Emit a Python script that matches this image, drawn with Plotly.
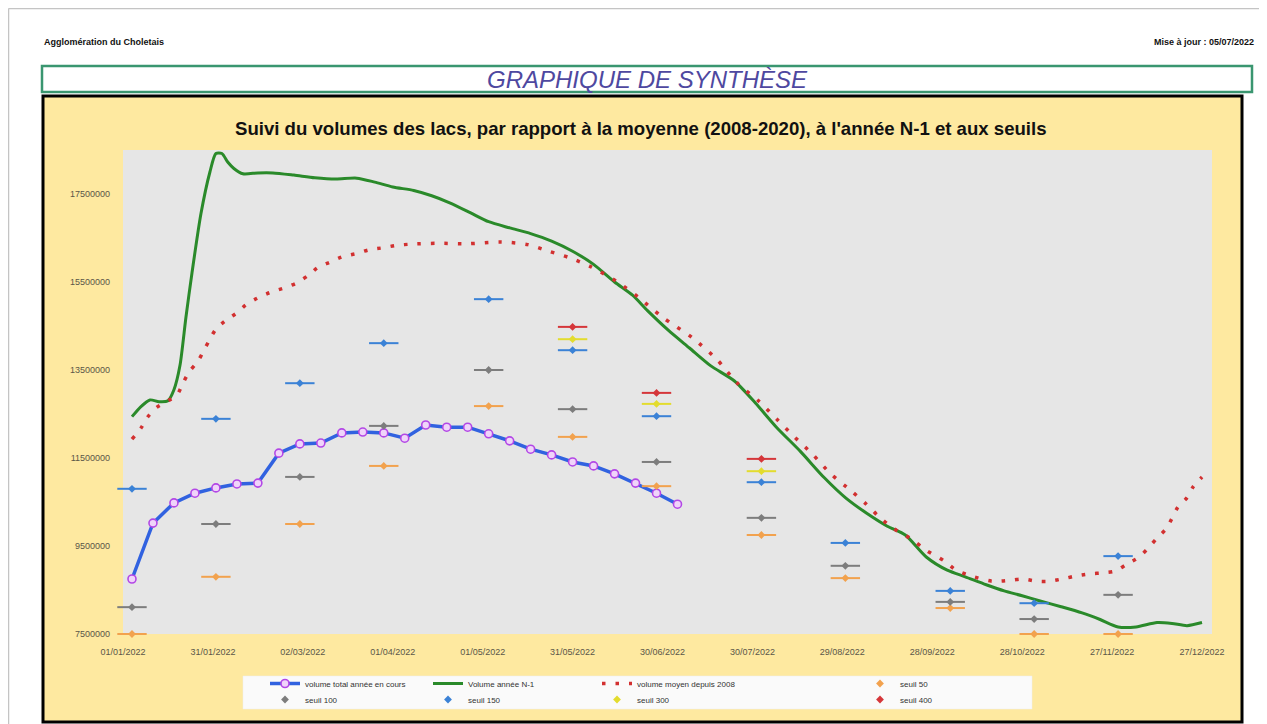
import datetime as dt
import plotly.graph_objects as go

# ---------------- DATA ----------------
BASE = dt.date(2022, 1, 1)

# volume total année en cours (weekly readings)
blue_dates = ["2022-01-04", "2022-01-11", "2022-01-18", "2022-01-25", "2022-02-01", "2022-02-08",
              "2022-02-15", "2022-02-22", "2022-03-01", "2022-03-08", "2022-03-15", "2022-03-22",
              "2022-03-29", "2022-04-05", "2022-04-12", "2022-04-19", "2022-04-26", "2022-05-03",
              "2022-05-10", "2022-05-17", "2022-05-24", "2022-05-31", "2022-06-07", "2022-06-14",
              "2022-06-21", "2022-06-28", "2022-07-05"]
blue_values = [8750000, 10020000, 10480000, 10700000, 10820000, 10910000, 10930000, 11610000,
               11820000, 11840000, 12070000, 12090000, 12070000, 11950000, 12250000, 12200000,
               12200000, 12050000, 11890000, 11700000, 11570000, 11410000, 11320000, 11140000,
               10930000, 10700000, 10450000]

# Volume année N-1 (day of year, value)
green_days = [3, 6, 9, 12, 15, 17, 19, 21, 23, 26, 29, 31, 33, 35, 37, 40, 45, 50, 57, 64, 71, 78,
              84, 90, 97, 103, 109, 116, 122, 129, 136, 143, 150, 157, 164, 170, 175, 182, 189, 196,
              204, 211, 218, 226, 234, 241, 248, 255, 261, 268, 275, 281, 288, 294, 300, 306, 313,
              320, 326, 332, 338, 345, 350, 355, 360]
green_values = [12440000, 12670000, 12820000, 12780000, 12800000, 13050000, 13600000, 14700000,
                15700000, 17050000, 18000000, 18420000, 18420000, 18220000, 18080000, 17960000,
                17980000, 17980000, 17930000, 17870000, 17840000, 17860000, 17770000, 17660000,
                17580000, 17460000, 17300000, 17070000, 16870000, 16730000, 16600000, 16430000,
                16200000, 15900000, 15500000, 15200000, 14850000, 14400000, 14000000, 13600000,
                13250000, 12750000, 12200000, 11650000, 11050000, 10600000, 10250000, 9950000,
                9750000, 9250000, 8950000, 8800000, 8620000, 8480000, 8370000, 8250000, 8120000,
                7980000, 7830000, 7660000, 7660000, 7760000, 7740000, 7690000, 7760000]

# volume moyen depuis 2008 (day of year, value)
red_days = [3, 6, 8, 11, 15, 18, 20, 22, 25, 27, 29, 31, 34, 38, 41, 45, 49, 54, 58, 62, 65, 69,
            73, 78, 82, 87, 91, 96, 105, 115, 126, 135, 142, 149, 156, 165, 172, 180, 190, 198,
            205, 212, 218, 224, 230, 236, 243, 248, 252, 257, 263, 268, 274, 278, 282, 290, 296,
            300, 305, 309, 314, 318, 323, 327, 331, 335, 339, 342, 345, 348, 350, 352, 355, 357, 360]
red_values = [11930000, 12180000, 12410000, 12640000, 12800000, 12930000, 13200000, 13450000,
              13700000, 13950000, 14200000, 14430000, 14610000, 14800000, 14980000, 15140000,
              15260000, 15370000, 15480000, 15660000, 15830000, 15950000, 16070000, 16150000,
              16230000, 16280000, 16330000, 16360000, 16380000, 16370000, 16410000, 16350000,
              16200000, 16050000, 15850000, 15500000, 15150000, 14700000, 14230000, 13750000,
              13200000, 12800000, 12390000, 11980000, 11590000, 11150000, 10750000, 10450000,
              10180000, 9900000, 9660000, 9400000, 9160000, 8950000, 8840000, 8700000, 8720000,
              8750000, 8700000, 8700000, 8760000, 8820000, 8870000, 8890000, 8930000, 9090000,
              9250000, 9450000, 9680000, 9890000, 10130000, 10390000, 10600000, 10840000, 11070000]

# seuils
seuil_dates = ["2022-01-04", "2022-02-01", "2022-03-01", "2022-03-29", "2022-05-03", "2022-05-31",
               "2022-06-28", "2022-08-02", "2022-08-30", "2022-10-04", "2022-11-01", "2022-11-29"]
seuil_50 = [7500000, 8800000, 10000000, 11320000, 12680000, 11980000, 10860000, 9750000,
            8770000, 8090000, 7500000, 7500000]
seuil_100 = [8110000, 10000000, 11070000, 12230000, 13500000, 12610000, 11410000, 10140000,
             9050000, 8230000, 7840000, 8390000]
seuil_150 = [10800000, 12390000, 13200000, 14110000, 15110000, 13950000, 12450000, 10950000,
             9570000, 8480000, 8200000, 9270000]
seuil_300 = [None, None, None, None, None, 14200000, 12730000, 11200000, None, None, None, None]
seuil_400 = [None, None, None, None, None, 14480000, 12980000, 11480000, None, None, None, None]

y_ticks = [7500000, 9500000, 11500000, 13500000, 15500000, 17500000]

# ---------------- FIGURE ----------------
OFF = 8                      # default page margin of the html body
W, H = 1267 - OFF, 724 - OFF
ML, MT = 123 - OFF, 150 - OFF
MR = W - (1212 - OFF)
MB = H - (634 - OFF)
PW, PH = W - ML - MR, H - MT - MB


def px(x):   # page pixel -> paper
    return (x - OFF - ML) / PW


def py(y):   # page pixel -> paper
    return (H - MB - (y - OFF)) / PH


def to_dates(days):
    return [(BASE + dt.timedelta(days=d)).isoformat() for d in days]


FONT = "Liberation Sans, Arial, sans-serif"
fig = go.Figure()

fig.add_trace(go.Scatter(
    x=blue_dates, y=blue_values, name="volume total année en cours", mode="lines+markers",
    line=dict(color="#3162e0", width=3.5),
    marker=dict(symbol="circle", size=8, color="#f0d4fa", line=dict(color="#b347e6", width=1.6)),
    legend="legend"))
fig.add_trace(go.Scatter(
    x=to_dates(green_days), y=green_values, name="Volume année N-1", mode="lines",
    line=dict(color="#2a8a2a", width=3, shape="spline", smoothing=0.7), legend="legend"))
fig.add_trace(go.Scatter(
    x=to_dates(red_days), y=red_values, name="volume moyen depuis 2008", mode="lines",
    line=dict(color="#d23030", width=3.5, dash="3.5px,10px", shape="spline", smoothing=0.8),
    legend="legend"))

seuils = [("seuil 50", seuil_50, "#f2a24e", "legend"),
          ("seuil 100", seuil_100, "#7d7d7d", "legend2"),
          ("seuil 150", seuil_150, "#3b82d6", "legend2"),
          ("seuil 300", seuil_300, "#e3dc2e", "legend2"),
          ("seuil 400", seuil_400, "#d5363a", "legend2")]
for name, vals, col, leg in seuils:
    fig.add_trace(go.Scatter(
        x=seuil_dates, y=vals, name=name, mode="markers", showlegend=False, cliponaxis=False,
        marker=dict(symbol="line-ew", size=21, color=col, line=dict(color=col, width=2)),
        legend=leg, hoverinfo="skip"))
    fig.add_trace(go.Scatter(
        x=seuil_dates, y=vals, name=name, mode="markers", cliponaxis=False,
        marker=dict(symbol="diamond", size=6, color=col), legend=leg))

shapes = [
    # page border
    dict(type="line", xref="paper", yref="paper", x0=px(8.5), x1=px(1267), y0=py(8.5), y1=py(8.5),
         line=dict(color="#c4c4c4", width=1.5), layer="below"),
    dict(type="line", xref="paper", yref="paper", x0=px(8.5), x1=px(8.5), y0=py(8.5), y1=py(724),
         line=dict(color="#c4c4c4", width=1.5), layer="below"),
    # title box
    dict(type="rect", xref="paper", yref="paper", x0=px(42), x1=px(1252), y0=py(92), y1=py(66),
         line=dict(color="#3a9670", width=2.5), fillcolor="white", layer="below"),
    # chart box
    dict(type="rect", xref="paper", yref="paper", x0=px(43), x1=px(1242), y0=py(722), y1=py(96),
         line=dict(color="black", width=3), fillcolor="#fee9a0", layer="below"),
    # plot area
    dict(type="rect", xref="paper", yref="paper", x0=0, x1=1, y0=0, y1=1,
         line=dict(width=0), fillcolor="#e6e6e6", layer="below"),
    # legend background
    dict(type="rect", xref="paper", yref="paper", x0=px(243), x1=px(1032), y0=py(709), y1=py(676),
         line=dict(color="#eeeeee", width=0.5), fillcolor="#fafafa", layer="below"),
]

annotations = [
    dict(text="<b>Agglomération du Choletais</b>", x=px(42), y=py(42), xref="paper", yref="paper",
         xanchor="left", yanchor="middle", showarrow=False, font=dict(family=FONT, size=9, color="#111")),
    dict(text="<b>Mise à jour : 05/07/2022</b>", x=px(1256), y=py(42), xref="paper", yref="paper",
         xanchor="right", yanchor="middle", showarrow=False, font=dict(family=FONT, size=9, color="#111")),
    dict(text="<i>GRAPHIQUE DE SYNTHÈSE</i>", x=px(647), y=py(79), xref="paper", yref="paper",
         xanchor="center", yanchor="middle", showarrow=False,
         font=dict(family=FONT, size=24, color="#4e48a0")),
    dict(text="<b>Suivi du volumes des lacs, par rapport à la moyenne (2008-2020), à l'année N-1 et aux seuils</b>",
         x=px(641), y=py(128), xref="paper", yref="paper", xanchor="center", yanchor="middle",
         showarrow=False, font=dict(family=FONT, size=18.6, color="#111")),
]

tickfont = dict(family=FONT, size=9, color="#5a5648")
fig.update_layout(
    width=W, height=H,
    margin=dict(l=ML, r=MR, t=MT, b=MB, autoexpand=False),
    paper_bgcolor="white", plot_bgcolor="rgba(0,0,0,0)",
    shapes=shapes, annotations=annotations,
    xaxis=dict(type="date", range=["2022-01-01", "2022-12-30 08:00"], tick0="2022-01-01",
               dtick=30 * 86400000, tickformat="%d/%m/%Y", showgrid=False, zeroline=False,
               showline=False, ticks="", tickfont=tickfont, ticklabelstandoff=11),
    yaxis=dict(range=[7500000, 18500000], tickmode="array", tickvals=y_ticks,
               ticktext=[str(v) for v in y_ticks], showgrid=False, zeroline=False,
               showline=False, ticks="", tickfont=tickfont, ticklabelstandoff=12),
    legend=dict(orientation="h", x=px(265), y=py(669), xanchor="left", yanchor="top",
                bgcolor="rgba(0,0,0,0)", font=dict(family=FONT, size=8, color="#333"),
                itemwidth=30),
    legend2=dict(orientation="h", x=px(265), y=py(685), xanchor="left", yanchor="top",
                 bgcolor="rgba(0,0,0,0)", font=dict(family=FONT, size=8, color="#333"),
                 itemwidth=30),
    showlegend=True,
)

# column widths of the legend rows
widths1 = {"volume total année en cours": 118, "Volume année N-1": 124,
           "volume moyen depuis 2008": 218, "seuil 50": 90}
widths2 = {"seuil 100": 118, "seuil 150": 124, "seuil 300": 218, "seuil 400": 90}
for tr in fig.data:
    if tr.showlegend is not False:
        tr.legendwidth = widths1.get(tr.name) or widths2.get(tr.name)

fig.write_html("out.html")
